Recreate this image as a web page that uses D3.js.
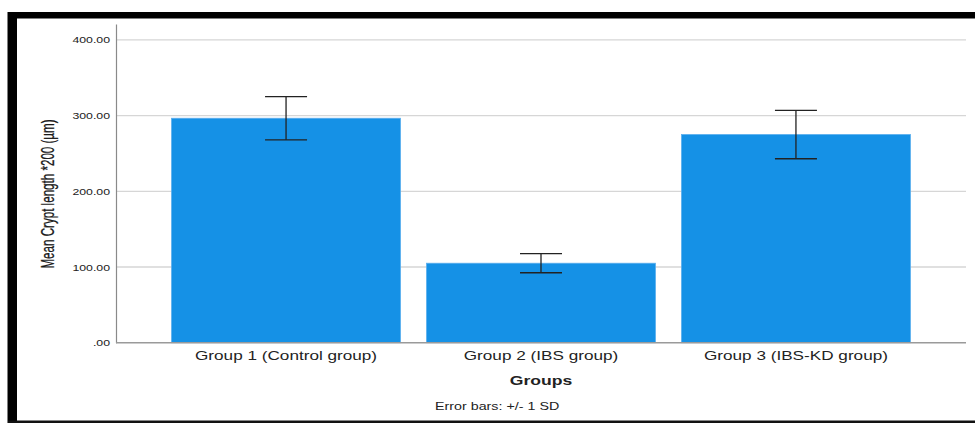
<!DOCTYPE html>
<html>
<head>
<meta charset="utf-8">
<script src="https://cdn.jsdelivr.net/npm/d3@7"></script>
<style>
  html, body { margin: 0; padding: 0; background: #fff; }
  svg { display: block; }
  text { font-family: "Liberation Sans", Arial, sans-serif; fill: #222; }
</style>
</head>
<body>
<svg id="chart" width="975" height="423"></svg>
<script>
// Mean crypt length per group, with ±1 SD error bars
const groups = ["Group 1 (Control group)", "Group 2 (IBS group)", "Group 3 (IBS-KD group)"];
const means = [296.5, 105, 275];
const sds = [28.5, 12.6, 32];
const tickValues = [0, 100, 200, 300, 400];
const tickLabels = [".00", "100.00", "200.00", "300.00", "400.00"];
const yTitle = "Mean Crypt length *200 (µm)";
const xTitle = "Groups";
const footnote = "Error bars:  +/- 1 SD";

const svg = d3.select("#chart");
const W = 975, H = 423;
const stretch = 1.43; // glyphs are drawn horizontally widened

// frame
svg.append("rect").attr("x", 8).attr("y", 12).attr("width", W - 8).attr("height", 6.5).attr("fill", "#000");
svg.append("rect").attr("x", 7.5).attr("y", 12).attr("width", 9.5).attr("height", H - 12).attr("fill", "#000");
svg.append("rect").attr("x", 8).attr("y", 420.5).attr("width", W - 8).attr("height", 2.5).attr("fill", "#111");

const left = 116, right = 966;
const x = d3.scaleBand().domain(groups).range([left, right]).paddingInner(0.102).paddingOuter(0.218);
const y = d3.scaleLinear().domain([0, 421]).range([342.7, 24]);

// gridlines
svg.append("g").selectAll("line").data(tickValues.filter(d => d > 0)).join("line")
  .attr("x1", left).attr("x2", right)
  .attr("y1", d => y(d)).attr("y2", d => y(d))
  .attr("stroke", "#d6d6d6").attr("stroke-width", 1.3);

// y axis
const yAxis = d3.axisLeft(y).tickValues(tickValues).tickSize(0)
  .tickFormat((d, i) => tickLabels[i]);
const gy = svg.append("g").attr("transform", `translate(${left},0)`).call(yAxis);
gy.select(".domain").attr("stroke", "#8a8a8a").attr("stroke-width", 1.2);
gy.selectAll(".tick text")
  .attr("x", 0).attr("dy", "0.36em")
  .attr("transform", `translate(-6,0) scale(${stretch},1)`)
  .style("font-family", '"Liberation Sans", Arial, sans-serif')
  .style("font-size", "8.6px").attr("fill", "#222");

// bars
svg.append("g").selectAll("rect").data(groups).join("rect")
  .attr("x", d => x(d)).attr("width", x.bandwidth())
  .attr("y", (d, i) => y(means[i]))
  .attr("height", (d, i) => y(0) - y(means[i]))
  .attr("fill", "#1591e6").attr("stroke", "#5aaeee").attr("stroke-width", 0.8);

// x axis baseline
svg.append("line").attr("x1", left).attr("x2", right).attr("y1", y(0)).attr("y2", y(0))
  .attr("stroke", "#9a9a9a").attr("stroke-width", 1.4);

// error bars
const cap = 21;
const eb = svg.append("g").attr("stroke", "#222").attr("stroke-width", 1.3);
groups.forEach((g, i) => {
  const cx = x(g) + x.bandwidth() / 2;
  const hi = y(means[i] + sds[i]), lo = y(means[i] - sds[i]);
  eb.append("line").attr("x1", cx).attr("x2", cx).attr("y1", hi).attr("y2", lo);
  eb.append("line").attr("x1", cx - cap).attr("x2", cx + cap).attr("y1", hi).attr("y2", hi);
  eb.append("line").attr("x1", cx - cap).attr("x2", cx + cap).attr("y1", lo).attr("y2", lo);
});

// category labels
svg.append("g").selectAll("text").data(groups).join("text")
  .attr("transform", d => `translate(${x(d) + x.bandwidth() / 2},360) scale(${stretch},1)`)
  .attr("text-anchor", "middle").style("font-size", "12px").text(d => d);

// axis titles
svg.append("text")
  .attr("transform", `translate(${(left + right) / 2},384.5) scale(${stretch},1)`)
  .attr("text-anchor", "middle").style("font-size", "12.3px").style("font-weight", "bold")
  .attr("fill", "#111")
  .text(xTitle);

svg.append("text")
  .attr("transform", `translate(54,194) scale(1.62,1) rotate(-90)`)
  .attr("text-anchor", "middle").style("font-size", "11.6px")
  .attr("fill", "#000").attr("stroke", "#000").attr("stroke-width", 0.15)
  .text(yTitle);

svg.append("text")
  .attr("transform", `translate(435,410) scale(${stretch},1)`)
  .attr("text-anchor", "start").style("font-size", "10px")
  .text(footnote);
</script>
</body>
</html>
